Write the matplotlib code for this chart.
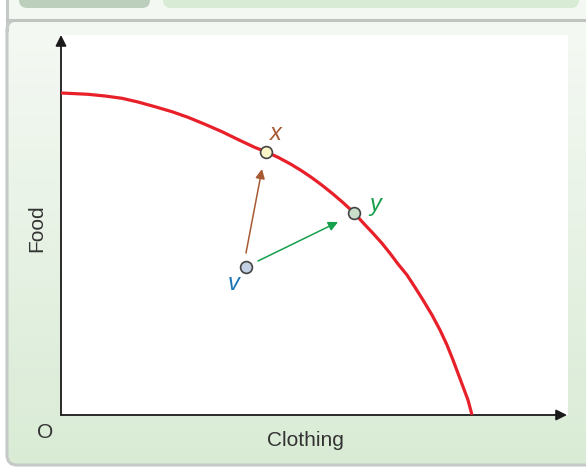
import numpy as np
import matplotlib.pyplot as plt
from matplotlib.patches import FancyBboxPatch, Rectangle

# production possibility frontier (origin = 0,0)
ppf_x = [0, 11, 27, 44, 61, 77, 94, 111, 127, 144, 161, 177, 194, 205, 218, 230, 240, 250,
         261, 272, 282, 293, 302, 312, 321, 329, 337, 346, 354, 362, 371, 379, 386, 392,
         397, 402, 407, 411]
ppf_y = [322, 321.5, 320.7, 319, 316.7, 313, 308.3, 303.3, 297.7, 290.7, 283.3, 275.5, 267.5,
         263.3, 257.2, 250.7, 244.6, 237.9, 229.8, 221, 212.4, 202.3, 192.3, 181.7, 171.7,
         161.7, 151, 140, 127.7, 115, 100, 85, 70, 55, 41.7, 28.3, 15, 0]

# labelled points
pt_names = ['x', 'y', 'v']
pt_x = [205, 293, 185]
pt_y = [263, 202.5, 148]
pt_fill = ['#fbf6c8', '#c9dfcb', '#c3cfe2']
pt_text = ['#a85a32', '#15a04c', '#1b76b8']

# arrows from v towards x and y
arr_start = [(185, 162), (197, 154)]
arr_end = [(201, 246), (277, 193)]
arr_color = ['#a85a32', '#15a04c']

W, H = 586, 467
plt.rcParams['font.family'] = ['Liberation Sans', 'DejaVu Sans']
fig = plt.figure(figsize=(W / 100, H / 100), dpi=100)
fig.patch.set_facecolor('white')

# background panel
bg = fig.add_axes([0, 0, 1, 1])
bg.axis('off')
panel = FancyBboxPatch((7, 20), W + 20, 445, boxstyle='round,pad=0,rounding_size=10',
                       facecolor='none', edgecolor='#c6cac6', lw=2.2)
grad = np.linspace(0, 1, 200)[:, None]
c0 = np.array([0xf5, 0xf9, 0xf4]) / 255
c1 = np.array([0xd9, 0xeb, 0xd5]) / 255
img = c0 + (c1 - c0) * grad[..., None]
im = bg.imshow(img, extent=(7, W + 20, 465, 20), aspect='auto', zorder=0)
bg.add_patch(panel)
im.set_clip_path(panel)
bg.add_patch(Rectangle((7, -5), W, 25, facecolor='#f4f8f3', edgecolor='none'))
bg.plot([7, 7], [-5, 30], color='#c6cac6', lw=2.2)
bg.plot([7, W], [19.5, 19.5], color='#c2c4c2', lw=2.2)
bg.add_patch(FancyBboxPatch((19, -20), 131, 28, boxstyle='round,pad=0,rounding_size=8',
                            facecolor='#bccfbc', edgecolor='none'))
bg.add_patch(FancyBboxPatch((163, -20), 416, 28, boxstyle='round,pad=0,rounding_size=8',
                            facecolor='#d8ebd5', edgecolor='none'))
bg.set_xlim(0, W)
bg.set_ylim(H, 0)

# main chart
ox, oy, rx, ty = 61, 415, 568, 35
ax = fig.add_axes([ox / W, 1 - oy / H, (rx - ox) / W, (oy - ty) / H])
ax.set_facecolor('white')
ax.set_xlim(0, rx - ox)
ax.set_ylim(0, oy - ty)
for s in ax.spines.values():
    s.set_visible(False)
ax.set_xticks([])
ax.set_yticks([])

ax.annotate('', xy=(rx - ox - 1, 0), xytext=(0, 0), annotation_clip=False,
            arrowprops=dict(arrowstyle='-|>', color='#1a1a1a', lw=1.3, mutation_scale=16,
                            shrinkA=0, shrinkB=0))
ax.annotate('', xy=(0, oy - ty), xytext=(0, 0), annotation_clip=False,
            arrowprops=dict(arrowstyle='-|>', color='#1a1a1a', lw=1.3, mutation_scale=16,
                            shrinkA=0, shrinkB=0))

ax.plot(ppf_x, ppf_y, color='#e8202a', lw=2.3, solid_capstyle='butt', solid_joinstyle='round', zorder=3)

for (x0, y0), (x1, y1), c in zip(arr_start, arr_end, arr_color):
    ax.annotate('', xy=(x1, y1), xytext=(x0, y0),
                arrowprops=dict(arrowstyle='-|>', color=c, lw=1.1, mutation_scale=14,
                                shrinkA=0, shrinkB=0))

for name, x, y, fc, tc in zip(pt_names, pt_x, pt_y, pt_fill, pt_text):
    ax.plot(x, y, 'o', ms=8.5, mfc=fc, mec='#444444', mew=1.2, zorder=5)
offsets = {'x': (10, 19), 'y': (21, 8), 'v': (-12, -17)}
for name, x, y, tc in zip(pt_names, pt_x, pt_y, pt_text):
    dx, dy = offsets[name]
    ax.text(x + dx, y + dy, name, color=tc, fontsize=17, style='italic',
            ha='center', va='center')

fig.text(45 / W, 1 - 433 / H, 'O', fontsize=15, color='#333333', ha='center', va='center')
fig.text(305 / W, 1 - 441 / H, 'Clothing', fontsize=15, color='#333333', ha='center', va='center')
fig.text(37 / W, 1 - 228 / H, 'Food', fontsize=15, color='#333333', ha='center', va='center',
         rotation=90)

fig.savefig('out.png', dpi=100)
